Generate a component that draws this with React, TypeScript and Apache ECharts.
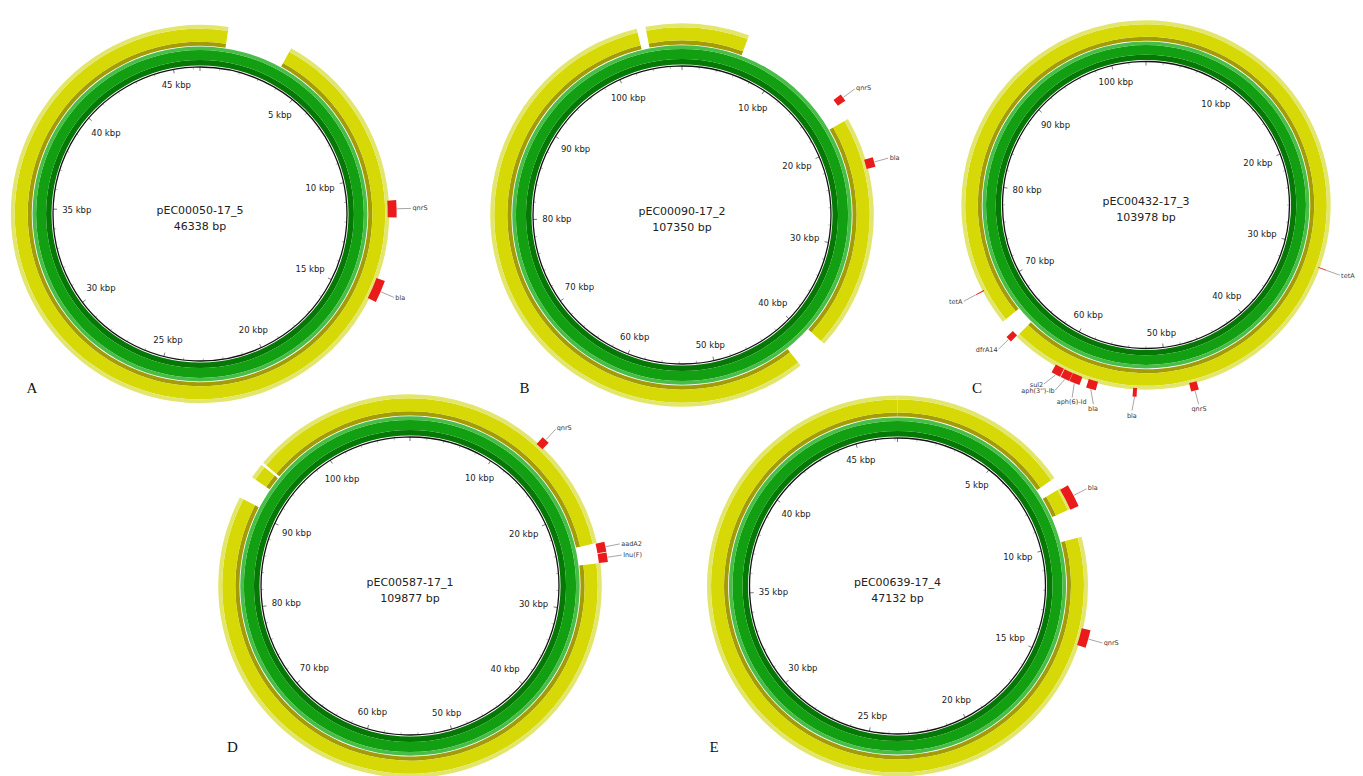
import React, { useEffect, useRef } from "react";
import * as echarts from "echarts";

// ---------------- DATA ----------------
const PANEL_LETTERS = ["A", "B", "C", "D", "E"];
const PLASMID_NAMES = ["pEC00050-17_5", "pEC00090-17_2", "pEC00432-17_3", "pEC00587-17_1", "pEC00639-17_4"];
const PLASMID_LENGTHS = [46338, 107350, 103978, 109877, 47132];
const TICK_STEPS_KBP = [5, 10, 10, 10, 5];
const TICK_LABELS_A = [5, 10, 15, 20, 25, 30, 35, 40, 45];
const TICK_LABELS_B = [10, 20, 30, 40, 50, 60, 70, 80, 90, 100];
const TICK_LABELS_C = [10, 20, 30, 40, 50, 60, 70, 80, 90, 100];
const TICK_LABELS_D = [10, 20, 30, 40, 50, 60, 70, 80, 90, 100];
const TICK_LABELS_E = [5, 10, 15, 20, 25, 30, 35, 40, 45];

// inner BLAST ring (green) coverage, bp ranges
const GREEN_A = [[0, 46338]];
const GREEN_B = [[0, 107350]];
const GREEN_C = [[0, 103978]];
const GREEN_D = [[0, 109877]];
const GREEN_E = [[0, 47132]];

// outer BLAST ring (yellow) coverage, bp ranges
const YELLOW_A = [[0, 1120], [3710, 46338]];
const YELLOW_B = [[0, 6100], [17870, 39420], [42270, 103265], [104070, 107350]];
const YELLOW_C = [[0, 64840], [66660, 103978]];
const YELLOW_D = [[0, 23500], [25360, 90800], [92950, 94380], [94620, 109877]];
const YELLOW_E = [[0, 7265], [7725, 8640], [9820, 47132]];

// resistance genes: [name, start, end]
const GENES_A: [string, number, number][] = [["qnrS", 11060, 11717], ["bla", 14150, 15010]];
const GENES_B: [string, number, number][] = [["qnrS", 15740, 16400], ["bla", 21810, 22670]];
const GENES_C: [string, number, number][] = [
  ["tetA", 31700, 31790], ["qnrS", 47370, 48060], ["bla", 52800, 53150], ["bla", 56370, 57240],
  ["aph(6)-Id", 57850, 58780], ["aph(3'')-Ib", 58800, 59610], ["sul2", 59670, 60500],
  ["dfrA14", 64900, 65450], ["tetA", 69900, 69990],
];
const GENES_D: [string, number, number][] = [["qnrS", 12730, 13460], ["aadA2", 23560, 24450], ["lnu(F)", 24510, 25360]];
const GENES_E: [string, number, number][] = [["bla", 7775, 8665], ["qnrS", 13470, 14165]];

const TICK_LABELS = [TICK_LABELS_A, TICK_LABELS_B, TICK_LABELS_C, TICK_LABELS_D, TICK_LABELS_E];
const GREEN_RINGS = [GREEN_A, GREEN_B, GREEN_C, GREEN_D, GREEN_E];
const YELLOW_RINGS = [YELLOW_A, YELLOW_B, YELLOW_C, YELLOW_D, YELLOW_E];
const GENES = [GENES_A, GENES_B, GENES_C, GENES_D, GENES_E];

// ---------------- LAYOUT / STYLE ----------------
const LAYOUT = [
  { cx: 200, cy: 214, r: 147, lx: 32, ly: 388 },
  { cx: 682, cy: 215, r: 149, lx: 524.5, ly: 388 },
  { cx: 1146, cy: 205, r: 143.5, lx: 977, ly: 388 },
  { cx: 410, cy: 586, r: 149, lx: 232.5, ly: 747 },
  { cx: 897.5, cy: 586, r: 148, lx: 714, ly: 747 },
];
const BASE_R = 148;
const GREEN_BANDS: [number, number, string][] = [
  [1.5, 7, "#067806"],
  [7, 17, "#129f12"],
  [17, 20.6, "#48bd48"],
];
const YELLOW_BANDS: [number, number, string][] = [
  [21.4, 25.5, "#a39b08"],
  [25.5, 38.5, "#d6d906"],
  [38.5, 42.5, "#e3e66c"],
];
const GENE_BAND = [41, 50];
const GENE_LABEL_OFF = 66;
const TICK_LABEL_OFF = -9;
// label angle adjustments (degrees) for crowded labels: key "plasmid-gene"
const LABEL_ANGLE_OVERRIDE: Record<string, number> = {
  "2-2": 183.9,
  "2-3": 194.8,
  "2-4": 201,
  "2-5": 206.1,
  "2-6": 209.7,
};
const TICK_FONT_SIZE = 8.5;
const GENE_FONT_SIZE = 6.5;
const FONT = "DejaVu Sans";

let measureCtx: CanvasRenderingContext2D | null = null;
function textWidth(t: string, size: number) {
  if (!measureCtx) measureCtx = document.createElement("canvas").getContext("2d");
  if (!measureCtx) return t.length * size * 0.6;
  measureCtx.font = `${size}px "${FONT}"`;
  return measureCtx.measureText(t).width;
}

function geom(params: any, api: any, bp: number, off: number) {
  const cs = params.coordSys;
  const k = 1 + off / BASE_R;
  const p = api.coord([k, bp]);
  const dx = p[0] - cs.cx;
  const dy = p[1] - cs.cy;
  const r = Math.hypot(dx, dy);
  return { x: p[0], y: p[1], cx: cs.cx, cy: cs.cy, r, a: Math.atan2(dy, dx), ux: dx / r, uy: dy / r };
}

function ringRenderer(idx: number) {
  return (params: any, api: any) => {
    const s = api.value(0);
    const e = api.value(1);
    const layer = api.value(2);
    const len = PLASMID_LENGTHS[idx];
    const bands = layer === 0 ? GREEN_BANDS : YELLOW_BANDS;
    const children = bands.map(([o0, o1, color]) => {
      const a = geom(params, api, s, o0);
      const b = geom(params, api, e, o1);
      const sa = a.a;
      let ea = b.a;
      if (e - s >= len) ea = sa + Math.PI * 2;
      else while (ea <= sa) ea += Math.PI * 2;
      return {
        type: "sector",
        shape: { cx: a.cx, cy: a.cy, r0: a.r, r: b.r, startAngle: sa, endAngle: ea, clockwise: true },
        style: { fill: color },
      };
    });
    return { type: "group", children };
  };
}

function geneRenderer(idx: number) {
  return (params: any, api: any) => {
    const s = api.value(0);
    const e = api.value(1);
    const gi = params.dataIndex;
    const name = GENES[idx][gi][0];
    const len = PLASMID_LENGTHS[idx];
    const a = geom(params, api, s, GENE_BAND[0]);
    const b = geom(params, api, e, GENE_BAND[1]);
    const sa = a.a;
    let ea = b.a;
    while (ea <= sa) ea += Math.PI * 2;
    const mid = geom(params, api, (s + e) / 2, GENE_BAND[1] + 0.5);
    const key = `${idx}-${gi}`;
    const labelBp = LABEL_ANGLE_OVERRIDE[key] !== undefined ? (LABEL_ANGLE_OVERRIDE[key] / 360) * len : (s + e) / 2;
    const lab = geom(params, api, labelBp, GENE_LABEL_OFF);
    const lead = geom(params, api, labelBp, GENE_LABEL_OFF - 1.5);
    let align = "center";
    let valign = "middle";
    if (Math.abs(lab.ux) >= 0.4) {
      align = lab.ux > 0 ? "left" : "right";
    } else {
      valign = lab.uy > 0 ? "top" : "bottom";
    }
    return {
      type: "group",
      children: [
        {
          type: "sector",
          shape: { cx: a.cx, cy: a.cy, r0: a.r, r: b.r, startAngle: sa, endAngle: ea, clockwise: true },
          style: { fill: "#ea1b1b" },
        },
        {
          type: "line",
          shape: { x1: mid.x, y1: mid.y, x2: lead.x, y2: lead.y },
          style: { stroke: "#6a6a6a", lineWidth: 0.6 },
        },
        {
          type: "text",
          x: lab.x,
          y: lab.y,
          style: {
            text: name,
            fill: "#3a3a3a",
            fontSize: GENE_FONT_SIZE,
            fontFamily: FONT,
            align,
            verticalAlign: valign,
            textAlign: align,
            textVerticalAlign: valign,
          },
        },
      ],
    };
  };
}

function tickLabelRenderer() {
  return (params: any, api: any) => {
    const v = api.value(0);
    const g = geom(params, api, v, TICK_LABEL_OFF);
    const text = `${Math.round(v / 1000)} kbp`;
    const w = textWidth(text, TICK_FONT_SIZE);
    const h = TICK_FONT_SIZE;
    const rc = g.r - (w / 2) * Math.abs(g.ux) - (h / 2) * Math.abs(g.uy);
    return {
      type: "text",
      x: g.cx + g.ux * rc,
      y: g.cy + g.uy * rc,
      style: {
        text,
        fill: "#222",
        fontSize: TICK_FONT_SIZE,
        fontFamily: FONT,
        align: "center",
        verticalAlign: "middle",
        textAlign: "center",
        textVerticalAlign: "middle",
      },
    };
  };
}

function buildOption() {
  const polar = LAYOUT.map((l) => ({ center: [l.cx, l.cy], radius: l.r }));
  const angleAxis = LAYOUT.map((l, i) => ({
    polarIndex: i,
    type: "value",
    min: 0,
    max: PLASMID_LENGTHS[i],
    interval: TICK_STEPS_KBP[i] * 1000,
    startAngle: 90,
    clockwise: true,
    axisLine: { show: true, lineStyle: { color: "#111", width: 1.3 } },
    axisTick: { show: true, inside: true, length: 4, lineStyle: { color: "#555", width: 0.8 } },
    minorTick: { show: true, splitNumber: 5, length: 2.5, lineStyle: { color: "#8a8a8a", width: 0.6 } },
    axisLabel: { show: false },
    splitLine: { show: false },
    minorSplitLine: { show: false },
  }));
  const radiusAxis = LAYOUT.map((l, i) => ({ polarIndex: i, type: "value", min: 0, max: 1, show: false }));

  const series: any[] = [];
  LAYOUT.forEach((l, i) => {
    series.push({
      type: "custom",
      coordinateSystem: "polar",
      polarIndex: i,
      clip: false,
      silent: true,
      z: 1,
      data: [
        ...GREEN_RINGS[i].map((s) => [s[0], s[1], 0]),
        ...YELLOW_RINGS[i].map((s) => [s[0], s[1], 1]),
      ],
      renderItem: ringRenderer(i),
    });
    series.push({
      type: "custom",
      coordinateSystem: "polar",
      polarIndex: i,
      clip: false,
      silent: true,
      z: 3,
      data: GENES[i].map((g) => [g[1], g[2]]),
      renderItem: geneRenderer(i),
    });
    series.push({
      type: "custom",
      coordinateSystem: "polar",
      polarIndex: i,
      clip: false,
      silent: true,
      z: 2,
      data: TICK_LABELS[i].map((v) => [v * 1000]),
      renderItem: tickLabelRenderer(),
    });
  });

  const graphic: any[] = [];
  LAYOUT.forEach((l, i) => {
    graphic.push({
      type: "text",
      x: l.cx,
      y: l.cy - 3.5,
      style: {
        text: PLASMID_NAMES[i],
        fill: "#222",
        fontSize: 11,
        fontFamily: FONT,
        align: "center",
        verticalAlign: "middle",
        textAlign: "center",
        textVerticalAlign: "middle",
      },
    });
    graphic.push({
      type: "text",
      x: l.cx,
      y: l.cy + 12,
      style: {
        text: `${PLASMID_LENGTHS[i]} bp`,
        fill: "#222",
        fontSize: 11,
        fontFamily: FONT,
        align: "center",
        verticalAlign: "middle",
        textAlign: "center",
        textVerticalAlign: "middle",
      },
    });
    graphic.push({
      type: "text",
      x: l.lx,
      y: l.ly,
      style: {
        text: PANEL_LETTERS[i],
        fill: "#111",
        fontSize: 15,
        fontFamily: "Liberation Serif",
        align: "center",
        verticalAlign: "middle",
        textAlign: "center",
        textVerticalAlign: "middle",
      },
    });
  });

  return {
    animation: false,
    backgroundColor: "#ffffff",
    polar,
    angleAxis,
    radiusAxis,
    series,
    graphic,
  };
}

export default function App() {
  const ref = useRef<HTMLDivElement>(null);
  useEffect(() => {
    if (!ref.current) return;
    const chart = echarts.init(ref.current, undefined, { renderer: "svg" });
    chart.setOption(buildOption() as any);
    return () => chart.dispose();
  }, []);
  return (
    <div
      ref={ref}
      style={{ position: "absolute", left: 0, top: 0, width: 1363, height: 776, background: "#fff" }}
    />
  );
}
